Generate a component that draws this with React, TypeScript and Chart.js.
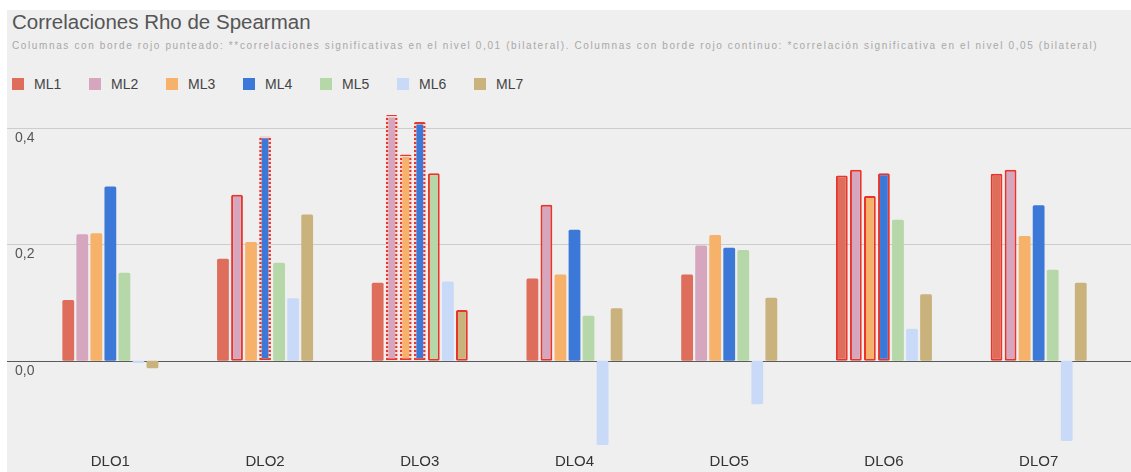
import React, { useEffect, useRef } from "react";
import { Chart, registerables } from "chart.js";

Chart.register(...registerables);

// ---------- data ----------
const categories = ["DLO1", "DLO2", "DLO3", "DLO4", "DLO5", "DLO6", "DLO7"];
const seriesNames = ["ML1", "ML2", "ML3", "ML4", "ML5", "ML6", "ML7"];

const ml1 = [0.104, 0.175, 0.134, 0.141, 0.148, 0.318, 0.321];
const ml2 = [0.217, 0.285, 0.422, 0.268, 0.198, 0.328, 0.328];
const ml3 = [0.219, 0.204, 0.354, 0.148, 0.216, 0.283, 0.214];
const ml4 = [0.299, 0.386, 0.41, 0.225, 0.194, 0.322, 0.267];
const ml5 = [0.151, 0.168, 0.322, 0.077, 0.19, 0.242, 0.156];
const ml6 = [-0.004, 0.107, 0.136, -0.145, -0.075, 0.055, -0.138];
const ml7 = [-0.013, 0.251, 0.087, 0.09, 0.108, 0.114, 0.134];

// significance marks: "**" p<0.01 (dotted red border), "*" p<0.05 (solid red border)
const sig1 = ["", "", "", "", "", "*", "*"];
const sig2 = ["", "*", "**", "*", "", "*", "*"];
const sig3 = ["", "", "**", "", "", "*", ""];
const sig4 = ["", "**", "**", "", "", "*", ""];
const sig5 = ["", "", "*", "", "", "", ""];
const sig6 = ["", "", "", "", "", "", ""];
const sig7 = ["", "", "*", "", "", "", ""];

const seriesColors = ["#df6d5b", "#d5a6bd", "#f6b26b", "#3c78d8", "#b6d7a8", "#c9daf8", "#c9b27c"];

const yTicks = [0, 0.2, 0.4];
const yTickLabels = ["0,0", "0,2", "0,4"];
const yMin = -0.15;
const yMax = 0.44;

const titleText = "Correlaciones Rho de Spearman";
const subtitleText =
  "Columnas con borde rojo punteado: **correlaciones significativas en el nivel 0,01 (bilateral). Columnas con borde rojo continuo: *correlación significativa en el nivel 0,05 (bilateral)";

const FONT = "'Liberation Sans', Arial, sans-serif";

const seriesValues = [ml1, ml2, ml3, ml4, ml5, ml6, ml7];
const seriesSig = [sig1, sig2, sig3, sig4, sig5, sig6, sig7];

export default function App() {
  const canvasRef = useRef<HTMLCanvasElement | null>(null);

  useEffect(() => {
    if (!canvasRef.current) return;

    const pc = document.createElement("canvas");
    pc.width = 4;
    pc.height = 4;
    const pctx = pc.getContext("2d")!;
    pctx.fillStyle = "#f7d4cf";
    pctx.fillRect(0, 0, 4, 4);
    pctx.fillStyle = "#e5392c";
    pctx.fillRect(0, 0, 4, 2);
    const ctx = canvasRef.current.getContext("2d")!;
    const dotted = ctx.createPattern(pc, "repeat");

    const datasets = seriesNames.map((name, i) => ({
      label: name,
      data: seriesValues[i],
      backgroundColor: seriesColors[i],
      borderColor: seriesSig[i].map((s) => (s === "**" ? dotted : s === "*" ? "#e8342a" : seriesColors[i])),
      borderWidth: seriesSig[i].map((s) => (s === "**" ? 2.5 : s === "*" ? 2 : 0)),
      borderSkipped: false,
      borderRadius: 1.5,
      categoryPercentage: 0.635,
      barPercentage: 0.84,
    }));

    const gridPlugin = {
      id: "fullGrid",
      beforeDatasetsDraw(chart: any) {
        const c = chart.ctx;
        const ys = chart.scales.y;
        c.save();
        yTicks.forEach((v, i) => {
          const py = Math.round(ys.getPixelForValue(v)) + 0.5;
          c.strokeStyle = v === 0 ? "#5a5a5a" : "#cdcdcd";
          c.lineWidth = 1;
          c.beginPath();
          c.moveTo(0, py);
          c.lineTo(chart.width, py);
          c.stroke();
          c.fillStyle = "#555";
          c.font = `14px ${FONT}`;
          c.textBaseline = "middle";
          c.textAlign = "left";
          c.fillText(yTickLabels[i], 8, py + 10);
        });
        c.restore();
      },
    };

    const chart = new Chart(canvasRef.current, {
      type: "bar",
      data: { labels: categories, datasets: datasets as any },
      options: {
        animation: false,
        responsive: false,
        events: [],
        layout: { padding: { left: 26, right: 15, top: 94.5, bottom: 0 } },
        plugins: {
          legend: { display: false },
          title: { display: false },
          tooltip: { enabled: false },
        },
        scales: {
          x: {
            grid: { display: false, drawTicks: false },
            border: { display: false },
            ticks: { color: "#333", font: { family: FONT, size: 15 }, padding: 5 },
            afterFit: (s: any) => {
              s.height = 24;
            },
          },
          y: {
            display: false,
            min: yMin,
            max: yMax,
          },
        },
      } as any,
      plugins: [gridPlugin],
    });

    return () => chart.destroy();
  }, []);

  return (
    <div
      style={{
        position: "fixed",
        left: 7,
        top: 10,
        width: 1124,
        height: 462,
        background: "#efefef",
        fontFamily: FONT,
      }}
    >
      <div style={{ position: "absolute", left: 5, top: 0, fontSize: 20.5, lineHeight: "24px", color: "#555", whiteSpace: "nowrap" }}>
        {titleText}
      </div>
      <div
        style={{
          position: "absolute",
          left: 5,
          top: 29,
          fontSize: 10,
          lineHeight: "14px",
          letterSpacing: "1.62px",
          color: "#a8a8a8",
          whiteSpace: "nowrap",
        }}
      >
        {subtitleText}
      </div>
      <div style={{ position: "absolute", left: 5, top: 66, display: "flex", height: 16, alignItems: "center" }}>
        {seriesNames.map((n, i) => (
          <div key={n} style={{ width: 77, display: "flex", alignItems: "center" }}>
            <span style={{ display: "inline-block", width: 12, height: 12, background: seriesColors[i], marginRight: 10 }} />
            <span style={{ fontSize: 14, color: "#444" }}>{n}</span>
          </div>
        ))}
      </div>
      <canvas
        ref={canvasRef}
        width={1124}
        height={462}
        style={{ position: "absolute", left: 0, top: 0, width: 1124, height: 462 }}
      />
    </div>
  );
}
